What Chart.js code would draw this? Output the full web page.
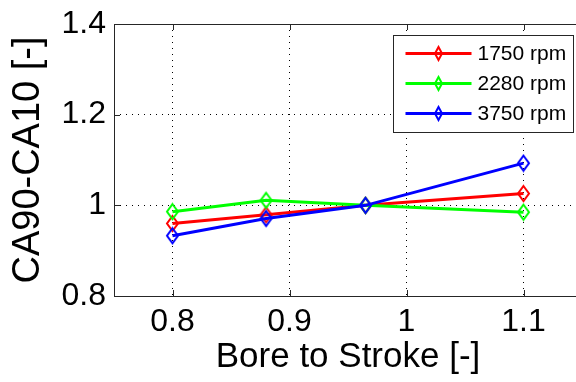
<!DOCTYPE html>
<html>
<head>
<meta charset="utf-8">
<script src="https://cdn.jsdelivr.net/npm/chart.js@4/dist/chart.umd.min.js"></script>
<style>
  html, body { margin: 0; padding: 0; background: #fff; overflow: hidden; }
  #wrap { width: 576px; height: 382px; overflow: hidden; position: relative; }
  canvas { display: block; }
</style>
</head>
<body>
<div id="wrap"><canvas id="chart" width="592" height="382"></canvas></div>
<script>
// ---------------------------------------------------------------------------
// Data
// ---------------------------------------------------------------------------
const boreToStroke = [0.8, 0.88, 0.965, 1.1];
const rpm1750 = [0.960, 0.979, 1.0, 1.026];
const rpm2280 = [0.986, 1.011, 1.0, 0.985];
const rpm3750 = [0.933, 0.971, 1.0, 1.093];

const seriesLabels = ['1750 rpm', '2280 rpm', '3750 rpm'];
const seriesColors = ['#ff0000', '#00ff00', '#0000ff'];

const xTicks = [0.8, 0.9, 1, 1.1];
const yTicks = [0.8, 1, 1.2, 1.4];

const FONT = "'Liberation Sans', Arial, Helvetica, sans-serif";

// Hollow diamond marker (MATLAB 'd') drawn on a small canvas
function diamond(color, w, h) {
  const c = document.createElement('canvas');
  c.width = w + 4;
  c.height = h + 4;
  const g = c.getContext('2d');
  const cx = c.width / 2, cy = c.height / 2;
  g.strokeStyle = color;
  g.lineWidth = 2;
  g.beginPath();
  g.moveTo(cx, cy - h / 2);
  g.lineTo(cx + w / 2, cy);
  g.lineTo(cx, cy + h / 2);
  g.lineTo(cx - w / 2, cy);
  g.closePath();
  g.stroke();
  return c;
}

const seriesValues = [rpm1750, rpm2280, rpm3750];

const datasets = seriesValues.map((vals, i) => ({
  label: seriesLabels[i],
  data: boreToStroke.map((x, j) => ({ x, y: vals[j] })),
  borderColor: seriesColors[i],
  backgroundColor: seriesColors[i],
  borderWidth: 3,
  pointStyle: diamond(seriesColors[i], 11, 15),
  pointRadius: 7,
  order: seriesValues.length - 1 - i
}));

// ---------------------------------------------------------------------------
// Frame, inner tick marks and the boxed legend
// ---------------------------------------------------------------------------
const frameTicksPlugin = {
  id: 'frameTicks',
  beforeDatasetsDraw(chart) {
    const { ctx, chartArea: a, scales } = chart;
    ctx.save();
    ctx.strokeStyle = '#262626';
    ctx.lineWidth = 1;
    ctx.beginPath();
    xTicks.forEach(v => {
      const px = Math.round(scales.x.getPixelForValue(v)) + 0.5;
      ctx.moveTo(px, a.bottom); ctx.lineTo(px, a.bottom - 6);
      ctx.moveTo(px, a.top); ctx.lineTo(px, a.top + 6);
    });
    yTicks.forEach(v => {
      const py = Math.round(scales.y.getPixelForValue(v)) + 0.5;
      ctx.moveTo(a.left, py); ctx.lineTo(a.left + 6, py);
      ctx.moveTo(a.right, py); ctx.lineTo(a.right - 6, py);
    });
    ctx.stroke();
    ctx.strokeRect(Math.round(a.left) + 0.5, Math.round(a.top) + 0.5,
      Math.round(a.right - a.left), Math.round(a.bottom - a.top));
    ctx.restore();
  },
  afterDraw(chart) {
    const { ctx, chartArea: a } = chart;
    const boxW = 180, boxH = 97;
    const bx = Math.round(a.right - 9 - boxW) + 0.5;
    const by = Math.round(a.top + 11) + 0.5;
    ctx.save();
    ctx.fillStyle = '#fff';
    ctx.fillRect(bx, by, boxW, boxH);
    ctx.strokeStyle = '#262626';
    ctx.lineWidth = 1;
    ctx.strokeRect(bx, by, boxW, boxH);
    ctx.font = '21px ' + FONT;
    ctx.textBaseline = 'middle';
    ctx.textAlign = 'left';
    chart.data.datasets.forEach((ds, i) => {
      const y = by + 18 + i * 30;
      const x0 = bx + 12, x1 = bx + 78;
      ctx.strokeStyle = ds.borderColor;
      ctx.lineWidth = 3;
      ctx.beginPath();
      ctx.moveTo(x0, y); ctx.lineTo(x1, y);
      ctx.stroke();
      const m = diamond(ds.borderColor, 7, 13);
      ctx.drawImage(m, (x0 + x1) / 2 - m.width / 2, y - m.height / 2);
      ctx.fillStyle = '#000';
      ctx.fillText(ds.label, bx + 84, y + 1);
    });
    ctx.restore();
  }
};

new Chart(document.getElementById('chart'), {
  type: 'line',
  data: { datasets },
  plugins: [frameTicksPlugin],
  options: {
    responsive: false,
    animation: false,
    events: [],
    layout: { padding: { left: 0, top: 24, right: 10, bottom: 0 } },
    plugins: { legend: { display: false }, tooltip: { enabled: false } },
    scales: {
      x: {
        type: 'linear',
        min: 0.75,
        max: 1.15,
        afterBuildTicks: s => { s.ticks = xTicks.map(v => ({ value: v })); },
        afterFit: s => { s.height = 86; },
        grid: { color: '#000', lineWidth: 1, drawTicks: false },
        border: { display: false, dash: [1, 5] },
        ticks: {
          color: '#000',
          padding: 10,
          font: { family: FONT, size: 32, lineHeight: 1 },
          maxRotation: 0,
          callback: v => String(v)
        },
        title: {
          display: true,
          text: 'Bore to Stroke [-]',
          color: '#000',
          font: { family: FONT, size: 35, lineHeight: 1 },
          padding: { top: 0, bottom: 7 }
        }
      },
      y: {
        type: 'linear',
        min: 0.8,
        max: 1.4,
        afterBuildTicks: s => { s.ticks = yTicks.map(v => ({ value: v })); },
        afterFit: s => { s.width = 114; },
        grid: { color: '#000', lineWidth: 1, drawTicks: false },
        border: { display: false, dash: [1, 5] },
        ticks: {
          color: '#000',
          padding: 8,
          font: { family: FONT, size: 32, lineHeight: 1 },
          callback: v => String(Math.round(v * 10) / 10)
        },
        title: {
          display: true,
          text: 'CA90-CA10 [-]',
          color: '#000',
          font: { family: FONT, size: 38, lineHeight: 1 },
          padding: { top: 10, bottom: 0 }
        }
      }
    }
  }
});
</script>
</body>
</html>
